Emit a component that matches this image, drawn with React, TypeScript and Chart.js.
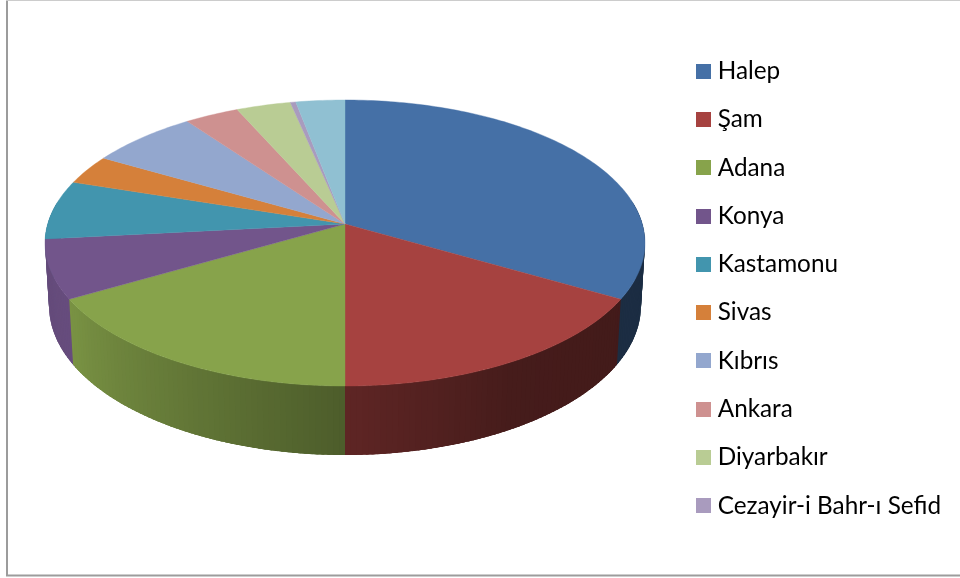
import React, { useEffect, useRef } from "react";
import { Chart, registerables } from "chart.js";

Chart.register(...registerables);

const categories = ["Halep", "Şam", "Adana", "Konya", "Kastamonu", "Sivas", "Kıbrıs", "Ankara", "Diyarbakır", "Cezayir-i Bahr-ı Sefid", "Diğer"];
const seriesValues = [10, 5, 5, 2, 2, 1, 2, 1, 1, 0.1, 0.9];
const sliceColors = ["#4570a6", "#a64240", "#87a34b", "#72558b", "#4295ae", "#d5803a", "#93a7ce", "#ce9190", "#b9cc94", "#a99bbe", "#90c0d2"];
const legendCount = 10;

// perspective of the disc (homography of the unit circle)
const CX = 345, CY = 224, A = 297.3, B = 140.5, K = 0.1329, DEPTH_W = 0.0133, DEPTH_Y = 62.9;
const project = (t: number, bottom: boolean) => {
  const u = Math.sin(t), v = Math.cos(t);
  const w = 1 + K * v + (bottom ? DEPTH_W : 0);
  return [CX + (A * u) / w, CY + (-B * v + (bottom ? DEPTH_Y : 0)) / w];
};

const lightStops = [[70, 0.42], [120, 0.4], [150, 0.42], [180, 0.57], [210, 0.74], [240, 0.9], [290, 0.84]];
const lightAt = (deg: number) => {
  for (let i = 1; i < lightStops.length; i++) {
    const [a, fa] = lightStops[i - 1], [b, fb] = lightStops[i];
    if (deg <= b) return fa + ((fb - fa) * Math.max(0, deg - a)) / (b - a);
  }
  return lightStops[lightStops.length - 1][1];
};
const shade = (hex: string, f: number) => {
  const n = parseInt(hex.slice(1), 16);
  return `rgb(${Math.round(((n >> 16) & 255) * f)},${Math.round(((n >> 8) & 255) * f)},${Math.round((n & 255) * f)})`;
};

const piePlugin = {
  id: "perspectivePie",
  beforeDraw(chart: any) {
    const ctx = chart.ctx;
    ctx.save();
    ctx.fillStyle = "#ffffff";
    ctx.fillRect(0, 0, chart.width, chart.height);
    ctx.fillStyle = "#9c9c9c";
    ctx.fillRect(6, 0, 2, 576);
    ctx.fillRect(6, 574.5, 954, 2);
    ctx.fillStyle = "#cccccc";
    ctx.fillRect(6, 0, 954, 1);
    ctx.restore();
  },
  beforeDatasetDraw(chart: any) {
    const ctx = chart.ctx;
    const arcs = chart.getDatasetMeta(0).data;
    const toClock = (a: number) => a + Math.PI / 2;
    const sliceOf = (t: number) => arcs.findIndex((a: any) => t >= toClock(a.startAngle) - 1e-9 && t <= toClock(a.endAngle) + 1e-9);
    ctx.save();
    // each strip runs on under the next one, so no seams show between strips
    const strip = (from: number, to: number, tailDeg: number) => {
      const t0 = (from * Math.PI) / 180, t1 = (to * Math.PI) / 180;
      const tail = (tailDeg * Math.PI) / 180;
      const idx = sliceOf((t0 + t1) / 2);
      if (idx < 0) return;
      const p = [project(t0, false), project(tail, false), project(tail, true), project(t0, true)];
      ctx.beginPath();
      p.forEach(([x, y], i) => (i ? ctx.lineTo(x, y) : ctx.moveTo(x, y)));
      ctx.closePath();
      ctx.fillStyle = shade(sliceColors[idx], lightAt((from + to) / 2));
      ctx.fill();
    };
    const step = 1;
    for (let d = 280; d > 180; d -= step) strip(d, d - step, d - step - 1.5);
    for (let d = 80; d < 180; d += step) strip(d, d + step, Math.min(d + step + 1.5, 180));

    arcs.forEach((arc: any, i: number) => {
      const s = toClock(arc.startAngle), e = toClock(arc.endAngle);
      const n = Math.max(2, Math.ceil(((e - s) * 180) / Math.PI));
      ctx.beginPath();
      ctx.moveTo(CX, CY);
      for (let k = 0; k <= n; k++) {
        const [x, y] = project(s + ((e - s) * k) / n, false);
        ctx.lineTo(x, y);
      }
      ctx.closePath();
      ctx.fillStyle = sliceColors[i];
      ctx.strokeStyle = sliceColors[i];
      ctx.lineWidth = 0.4;
      ctx.fill();
      ctx.stroke();
    });
    ctx.restore();
    return false;
  },
};

const swatch = (color: string) => {
  const c = document.createElement("canvas");
  c.width = 15;
  c.height = 15;
  const g = c.getContext("2d")!;
  g.fillStyle = color;
  g.fillRect(0, 0, 15, 15);
  return c;
};

export default function App() {
  const ref = useRef<HTMLCanvasElement>(null);
  useEffect(() => {
    const chart = new Chart(ref.current!, {
      type: "pie",
      data: {
        labels: categories,
        datasets: [{ data: seriesValues, backgroundColor: sliceColors, borderWidth: 0 }],
      },
      options: {
        responsive: false,
        animation: false,
        radius: 280,
        layout: { padding: { left: 0, right: 9, top: 0, bottom: 1 } },
        plugins: {
          tooltip: { enabled: false },
          legend: {
            position: "right",
            align: "center",
            labels: {
              usePointStyle: true,
              pointStyleWidth: 5,
              boxHeight: 15,
              padding: 24,
              color: "#0d0d0d",
              font: { family: "Lato", size: 24.3 },
              generateLabels: () =>
                categories.slice(0, legendCount).map((text, index) => ({
                  text,
                  index,
                  fillStyle: sliceColors[index],
                  strokeStyle: sliceColors[index],
                  lineWidth: 0,
                  hidden: false,
                  pointStyle: swatch(sliceColors[index]),
                })),
            },
          },
        },
      } as any,
      plugins: [piePlugin as any],
    });
    return () => chart.destroy();
  }, []);
  return <canvas ref={ref} width={960} height={578} style={{ position: "absolute", left: 0, top: 0, display: "block" }} />;
}
